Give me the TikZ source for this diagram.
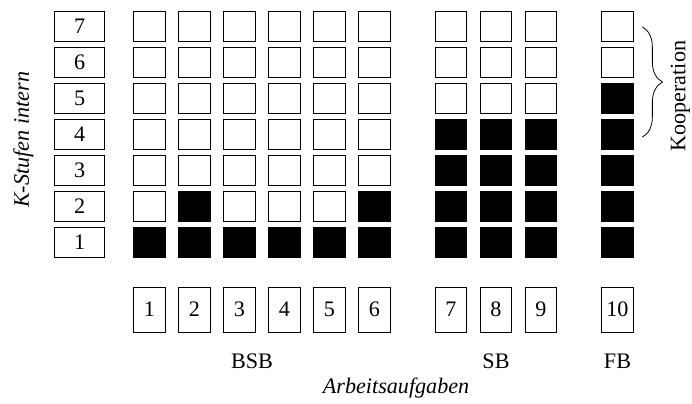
\documentclass[tikz,border=0pt]{standalone}
\usepackage{fontspec}
\setmainfont{Liberation Serif}
\usepackage{tikz}
\usetikzlibrary{decorations.pathreplacing}

\begin{document}
\begin{tikzpicture}[x=1cm, y=1cm,
    every node/.style={font=\fontsize{14}{16}\selectfont},
    cell/.style={draw, line width=0.6pt, minimum width=0.69cm, minimum height=0.667cm, inner sep=0pt},
    lvlbox/.style={cell, minimum width=1.11cm},
    taskbox/.style={cell, minimum height=1cm}]
    \useasboundingbox (-2.322,-3.578) rectangle (13.056,5.378);
    % K-Stufen
    \foreach \k in {1,...,7} {
        \node[lvlbox] (lvl\k) at (-0.55,{(\k-1)*0.8}) {\k};
    }
    % Aufgaben mit erreichter Stufe
    \foreach \i/\x/\n in {1/1/1,2/2/2,3/3/1,4/4/1,5/5/1,6/6/2,7/7.7/4,8/8.7/4,9/9.7/4,10/11.4/5} {
        \foreach \k in {1,...,7} {
            \ifnum\k>\n \def\cfill{white}\else \def\cfill{black}\fi
            \node[cell, fill=\cfill] (c\i-\k) at (\x,{(\k-1)*0.8}) {};
        }
        \node[taskbox] (task\i) at (\x,-1.5) {\i};
    }
    \node (bsb) at (3.28,-2.66) {BSB};
    \node (sb) at (8.7,-2.66) {SB};
    \node (fb) at (11.4,-2.66) {FB};
    \node[font=\fontsize{14}{16}\selectfont\itshape] (aufg) at (6.48,-3.24) {Arbeitsaufgaben};
    \node[font=\fontsize{14}{16}\selectfont\itshape, rotate=90] (kstufen) at (-1.80,2.27) {K-Stufen intern};
    % Kooperation
    \coordinate (brtop) at (11.95,4.78);
    \coordinate (brbot) at (11.95,2.33);
    \draw[decorate, decoration={brace, amplitude=0.45cm}, line width=0.5pt] (brtop) -- (brbot);
    \node[rotate=90, inner sep=1pt] (koop) at (12.80,3.24) {Kooperation};
\end{tikzpicture}
\end{document}
